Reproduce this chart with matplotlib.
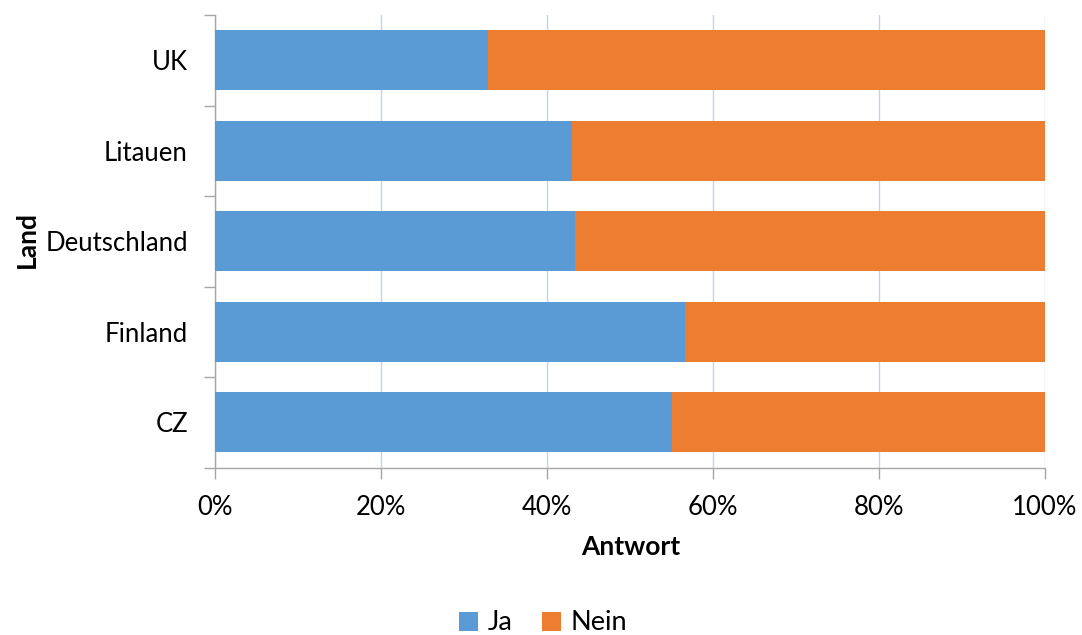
import matplotlib
matplotlib.use("Agg")
import matplotlib.pyplot as plt
import numpy as np
from matplotlib.ticker import FixedLocator, PercentFormatter

# Data (bottom to top)
countries = ["CZ", "Finland", "Deutschland", "Litauen", "UK"]
ja = [55.1, 56.6, 43.4, 43.0, 32.9]
nein = [100 - v for v in ja]
x_ticks = [0, 20, 40, 60, 80, 100]

plt.rcParams['font.family'] = ['Lato', 'DejaVu Sans']

fig = plt.figure(figsize=(10.82, 6.35), dpi=100)
ax = fig.add_axes([215/1082, 1 - 467.5/635, (1045-215)/1082, (467.5-15)/635])

y = np.arange(len(countries))
blue = "#5B9BD5"
orange = "#ED7D31"
h1 = ax.barh(y, ja, height=0.665, color=blue, label="Ja", zorder=3)
h2 = ax.barh(y, nein, left=ja, height=0.665, color=orange, label="Nein", zorder=3)

ax.set_xlim(0, 100)
ax.set_ylim(-0.5, len(countries) - 0.5)

ax.xaxis.set_major_locator(FixedLocator(x_ticks))
ax.xaxis.set_major_formatter(PercentFormatter(decimals=0))
ax.grid(axis='x', color="#C3D5E9", linewidth=1.0, zorder=0)

# y: ticks at boundaries, labels at centers
ax.set_yticks(np.arange(-0.5, len(countries), 1.0))
ax.set_yticklabels([])
ax.set_yticks(y, minor=True)
ax.set_yticklabels(countries, minor=True)
ax.tick_params(axis='y', which='major', length=8, width=1, color="#A6A6A6", direction='out')
ax.tick_params(axis='y', which='minor', length=0, pad=19.5, labelsize=18.5)
ax.tick_params(axis='x', which='major', length=8, width=1, color="#A6A6A6", direction='out',
               pad=12, labelsize=18.5)

for s in ['top', 'right']:
    ax.spines[s].set_visible(False)
for s in ['left', 'bottom']:
    ax.spines[s].set_color("#A6A6A6")
    ax.spines[s].set_linewidth(1.0)

fig.text(631/1082, 1 - 547/635, "Antwort", ha='center', va='center', fontsize=19, fontweight='bold')
fig.text(27/1082, 1 - 240/635, "Land", ha='center', va='center', fontsize=19, fontweight='bold', rotation=90)

fig.legend(handles=[h1, h2], labels=["Ja", "Nein"], loc='center', bbox_to_anchor=(543/1082, 1 - 623/635),
           ncol=2, frameon=False, fontsize=19.5, handlelength=0.7, handleheight=0.7,
           handletextpad=0.35, columnspacing=1.1)

fig.savefig("out.png", dpi=100)
